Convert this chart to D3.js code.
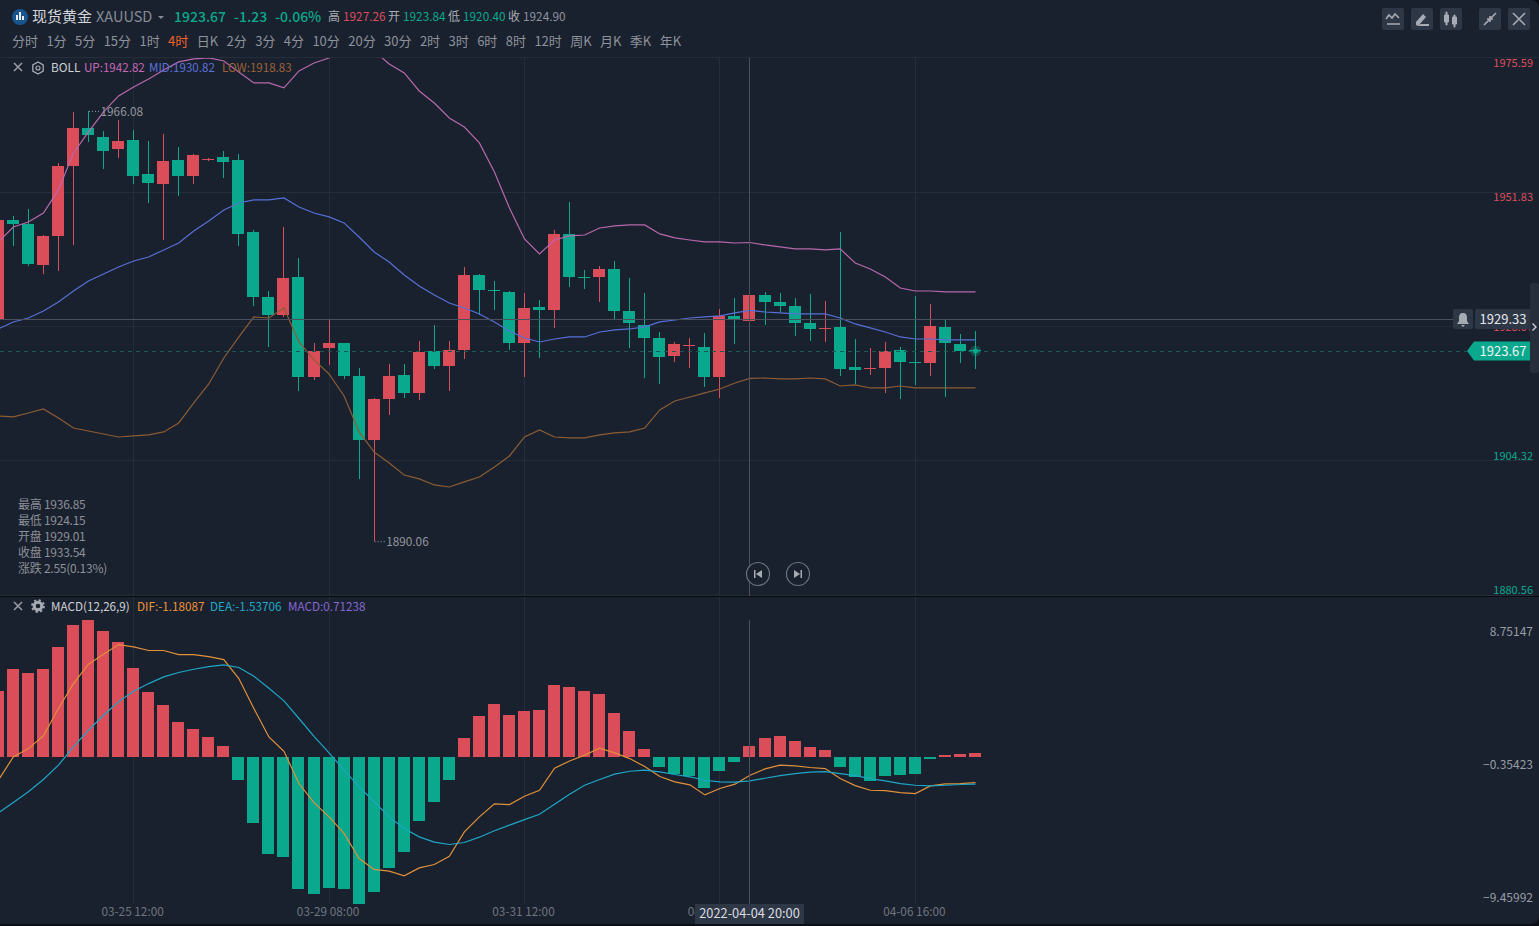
<!DOCTYPE html>
<html>
<head>
<meta charset="utf-8">
<title>XAUUSD</title>
<script src="https://cdn.jsdelivr.net/npm/d3@7"></script>
<style>
  html, body { margin: 0; padding: 0; background: #0b0e14; overflow: hidden; }
  svg { display: block; }
  text { font-family: "Noto Sans CJK SC", "Noto Sans", sans-serif; }
</style>
</head>
<body>
<div id="chart"></div>
<script>
// candles, oldest first (4h bars)
const open = [1929.32,1946.81,1946.10,1938.85,1943.98,1956.35,1963.06,1961.47,1959.35,1960.94,
  1954.93,1953.17,1957.41,1954.58,1957.41,1957.94,1957.41,1944.69,1933.20,1930.02,
  1936.73,1919.07,1924.19,1925.08,1919.25,1907.94,1915.19,1919.43,1916.25,1923.66,
  1921.02,1923.84,1937.09,1934.35,1934.09,1925.08,1931.44,1930.91,1944.34,1936.81,
  1936.73,1938.15,1930.73,1928.26,1925.96,1922.78,1924.65,1924.37,1919.07,1929.85,
  1929.01,1933.54,1932.32,1931.61,1928.61,1927.65,1927.91,1920.84,1920.55,1920.66,
  1923.84,1921.80,1921.54,1927.91,1924.90,1923.84];
const high = [1947.51,1947.51,1948.75,1944.15,1956.88,1965.89,1966.08,1962.53,1964.47,1962.70,
  1960.76,1962.00,1959.70,1958.47,1957.70,1958.99,1958.47,1945.04,1934.26,1945.57,
  1940.09,1925.08,1929.32,1925.08,1920.66,1915.36,1921.37,1921.37,1925.43,1928.26,
  1925.43,1938.50,1937.27,1936.03,1934.26,1933.91,1932.67,1945.04,1949.99,1937.97,
  1938.68,1939.56,1936.56,1933.91,1927.02,1925.25,1925.96,1926.85,1931.08,1933.02,
  1936.85,1934.09,1933.91,1933.02,1933.73,1932.50,1944.69,1925.78,1924.19,1925.25,
  1924.37,1933.38,1931.97,1929.32,1926.67,1927.26];
const low = [1929.14,1942.21,1938.68,1937.27,1937.80,1942.39,1960.58,1955.82,1957.76,1953.17,
  1949.81,1943.27,1951.05,1953.17,1957.30,1954.23,1942.21,1931.61,1924.37,1929.67,
  1916.60,1918.54,1921.19,1918.72,1901.06,1890.06,1912.36,1915.36,1915.01,1920.49,
  1916.60,1922.25,1930.02,1930.91,1923.84,1919.07,1922.43,1927.73,1934.97,1934.62,
  1932.32,1929.32,1924.19,1918.89,1917.84,1921.72,1920.66,1917.31,1915.36,1924.90,
  1924.15,1928.26,1930.55,1926.31,1925.43,1925.25,1919.25,1917.84,1919.43,1916.25,
  1915.19,1917.66,1919.25,1915.54,1921.54,1920.40];
const close = [1946.81,1946.10,1939.03,1943.98,1956.35,1963.06,1961.82,1958.99,1960.76,1954.58,
  1953.34,1957.23,1954.58,1958.29,1957.58,1957.05,1944.34,1933.20,1930.02,1936.56,
  1919.07,1923.66,1925.08,1919.25,1907.94,1915.19,1919.25,1916.25,1923.49,1921.02,
  1923.84,1937.09,1934.44,1934.17,1925.08,1931.26,1930.91,1944.34,1936.73,1936.63,
  1938.15,1930.73,1928.61,1925.96,1922.61,1924.90,1924.80,1919.07,1929.85,1929.14,
  1933.54,1932.32,1931.61,1928.61,1927.55,1927.80,1920.49,1920.31,1920.70,1923.66,
  1921.72,1921.65,1928.08,1925.08,1923.66,1923.67];

// bollinger bands
const bollUp = [1942.92,1945.57,1946.45,1948.04,1952.11,1958.64,1962.35,1965.89,1968.71,1970.30,
  1971.71,1973.30,1974.72,1975.25,1975.42,1974.89,1972.95,1971.01,1971.01,1970.13,
  1973.13,1974.54,1975.42,1976.66,1977.37,1976.66,1974.36,1972.77,1969.59,1967.47,
  1964.83,1963.23,1960.41,1955.29,1948.93,1943.45,1940.80,1943.27,1943.98,1944.15,
  1945.39,1945.75,1945.92,1945.92,1944.34,1943.63,1943.27,1942.92,1942.92,1942.74,
  1942.82,1942.39,1942.04,1941.69,1941.69,1941.51,1941.69,1939.21,1938.15,1936.73,
  1934.79,1934.26,1934.26,1934.09,1934.09,1934.09];
const bollMid = [1927.55,1928.79,1929.49,1930.73,1932.32,1934.26,1936.03,1937.27,1938.50,1939.56,
  1940.27,1941.51,1942.74,1944.86,1946.63,1948.57,1949.81,1950.34,1950.34,1950.69,
  1949.10,1948.04,1947.34,1946.28,1943.80,1941.15,1939.39,1937.09,1935.15,1933.56,
  1932.14,1931.26,1930.20,1928.79,1927.20,1925.96,1925.25,1925.78,1926.14,1926.14,
  1927.02,1927.38,1927.55,1927.91,1928.79,1929.14,1929.49,1929.67,1929.85,1930.38,
  1930.82,1930.55,1930.38,1930.20,1930.20,1930.20,1929.49,1928.44,1927.73,1927.02,
  1926.14,1925.78,1925.78,1925.61,1925.61,1925.61];
const bollLow = [1912.18,1912.01,1912.71,1913.42,1911.83,1910.06,1909.53,1909.00,1908.47,1908.65,
  1908.83,1909.36,1910.95,1914.48,1917.84,1922.43,1926.14,1929.67,1929.49,1931.26,
  1925.25,1922.08,1919.60,1915.72,1909.36,1905.82,1903.88,1901.76,1901.06,1900.00,
  1899.64,1900.53,1901.41,1903.17,1905.12,1908.47,1909.71,1908.47,1908.30,1908.30,
  1908.83,1909.18,1909.36,1910.06,1913.24,1914.83,1915.54,1916.25,1916.95,1918.01,
  1918.83,1918.89,1918.72,1918.72,1918.89,1918.72,1917.48,1917.66,1917.13,1917.13,
  1917.48,1917.13,1917.13,1917.13,1917.13,1917.13];

// macd
const macdHist = [4.20,5.63,5.37,5.61,7.06,8.47,8.75,8.04,7.38,5.72,
  4.13,3.35,2.26,1.81,1.25,0.67,-1.46,-4.24,-6.24,-6.44,
  -8.49,-8.79,-8.38,-8.45,-9.46,-8.64,-7.10,-6.08,-4.12,-2.90,
  -1.51,1.23,2.64,3.41,2.70,2.96,2.98,4.63,4.50,4.22,
  4.05,2.81,1.63,0.48,-0.67,-1.08,-1.23,-1.97,-0.93,-0.31,
  0.71,1.19,1.33,1.01,0.65,0.42,-0.67,-1.30,-1.57,-1.25,
  -1.19,-1.10,-0.14,0.14,0.18,0.22];
const dif = [-1.50,0,0.53,1.35,3.10,4.70,5.94,6.58,7.20,7.05,
  6.82,6.82,6.56,6.56,6.43,6.24,5.02,3.10,1.28,0.36,
  -1.71,-2.93,-3.85,-4.91,-6.52,-7.22,-7.33,-7.63,-7.12,-6.90,
  -6.37,-4.81,-3.85,-3.01,-3.06,-2.52,-2.14,-0.73,-0.26,0.11,
  0.56,0.26,-0.11,-0.62,-1.26,-1.60,-1.79,-2.44,-2.03,-1.75,
  -1.18,-0.77,-0.53,-0.58,-0.68,-0.75,-1.39,-1.84,-2.14,-2.16,
  -2.29,-2.35,-1.86,-1.73,-1.71,-1.65];
const dea = [-3.59,-2.93,-2.24,-1.45,-0.53,0.64,1.71,2.67,3.53,4.21,
  4.70,5.13,5.41,5.62,5.79,5.90,5.73,5.17,4.40,3.59,
  2.46,1.32,0.26,-0.85,-1.92,-2.88,-3.85,-4.59,-5.13,-5.47,
  -5.62,-5.49,-5.15,-4.74,-4.38,-4.02,-3.68,-3.03,-2.39,-1.82,
  -1.45,-1.11,-0.92,-0.85,-0.96,-1.13,-1.28,-1.50,-1.60,-1.62,
  -1.54,-1.37,-1.20,-1.07,-0.98,-0.94,-1.07,-1.20,-1.39,-1.54,
  -1.71,-1.82,-1.86,-1.82,-1.77,-1.75];

// axis ticks
const timeTicks = [9, 22, 35, 48, 61];
const timeLabels = ['03-25 12:00', '03-29 08:00', '03-31 12:00', '04-04 12:00', '04-06 16:00'];
const priceTicks = [1975.59, 1951.83, 1928.07, 1904.32, 1880.56];
const macdTicks = [8.75147, -0.35423, -9.45992];

// toolbar text
const periods = ['分时','1分','5分','15分','1时','4时','日K','2分','3分','4分','10分','20分','30分','2时','3时','6时','8时','12时','周K','月K','季K','年K'];
const activePeriod = '4时';
const hoverRows = ['最高 1936.85', '最低 1924.15', '开盘 1929.01', '收盘 1933.54', '涨跌 2.55(0.13%)'];
const hoverIndex = 50;
const lastPrice = 1923.67;
const crossPrice = 1929.33;
const crossLabel = '2022-04-04 20:00';

const width = 1539, height = 926;
const RED = '#dc4d5a', GREEN = '#0aa98d', GRID = '#252d3a', BG = '#1a212e', CROSS = '#4b505c', BOX = '#2e3746';
const UP_C = '#b868ac', MID_C = '#5670d8', LOW_C = '#8c5c34', DIF_C = '#e0903a', DEA_C = '#1ea6c6';
const GRAY = '#8d929c';

const idx = d3.range(open.length);
const x = d3.scaleLinear().domain([0, open.length - 1]).range([-2.2, 975]);
const y = d3.scaleLinear().domain([priceTicks[4], priceTicks[0]]).range([595, 57]);
const yM = d3.scaleLinear().domain([macdTicks[2], macdTicks[0]]).range([904.4, 620.4]);

const svg = d3.select('#chart').append('svg').attr('width', width).attr('height', height);

svg.append('rect').attr('x', -10).attr('y', 0).attr('width', width + 10).attr('height', 924).attr('rx', 8).attr('fill', BG);

const defs = svg.append('defs');
defs.append('clipPath').attr('id', 'mainClip').append('rect').attr('x', 0).attr('y', 57).attr('width', 1530).attr('height', 539);
defs.append('clipPath').attr('id', 'macdClip').append('rect').attr('x', 0).attr('y', 597).attr('width', 1530).attr('height', 307);

function txt(parent, s, px, py, size, fill, anchor) {
  return parent.append('text').attr('x', px).attr('y', py).attr('font-size', size).attr('fill', fill)
    .attr('text-anchor', anchor || 'start').text(s);
}

// ---- grid + axes
const gridV1 = svg.append('g').attr('transform', 'translate(0,595)')
  .call(d3.axisBottom(x).tickValues(timeTicks).tickSize(-538).tickFormat(''));
const gridV2 = svg.append('g').attr('transform', 'translate(0,904)')
  .call(d3.axisBottom(x).tickValues(timeTicks).tickSize(-307).tickFormat((d, i) => timeLabels[i]));
gridV2.selectAll('text').attr('x', -1).attr('y', 4).attr('dy', '.71em').attr('font-size', 11.8).attr('fill', '#70757f')
  .attr('font-family', '"Noto Sans CJK SC", sans-serif');
[gridV1, gridV2].forEach(g => {
  g.select('.domain').remove();
  g.selectAll('line').attr('stroke', GRID).attr('shape-rendering', 'crispEdges');
});

const gridH = svg.append('g').attr('transform', 'translate(1533,0)')
  .call(d3.axisLeft(y).tickValues(priceTicks).tickSize(1533).tickFormat(d3.format('.2f')));
gridH.select('.domain').remove();
gridH.selectAll('line').attr('stroke', GRID).attr('shape-rendering', 'crispEdges');
gridH.selectAll('text').attr('x', 0).attr('text-anchor', 'end').attr('font-size', 11)
  .attr('font-family', '"Noto Sans CJK SC", sans-serif')
  .attr('fill', d => d < priceTicks[2] - 1 ? GREEN : RED)
  .attr('dy', '.32em')
  .attr('y', d => d === priceTicks[2] ? 1 : d > priceTicks[2] ? 5.5 : -5);

const macdAxis = svg.append('g').attr('transform', 'translate(1533,0)')
  .call(d3.axisLeft(yM).tickValues(macdTicks).tickSize(0).tickFormat(d3.format('.5f')));
macdAxis.select('.domain').remove();
macdAxis.selectAll('text').attr('x', 0).attr('text-anchor', 'end').attr('font-size', 12)
  .attr('font-family', '"Noto Sans CJK SC", sans-serif').attr('fill', '#979ca6')
  .attr('dy', '.32em')
  .attr('y', (d, i) => [11, 2, -7][i]);

// panel separator
svg.append('rect').attr('x', 0).attr('y', 596).attr('width', width).attr('height', 1).attr('fill', '#07090d');

// ---- candles
const main = svg.append('g').attr('clip-path', 'url(#mainClip)');
const candle = main.selectAll('g.candle').data(idx).join('g').attr('class', 'candle')
  .attr('fill', i => close[i] >= open[i] ? RED : GREEN).attr('shape-rendering', 'crispEdges');
candle.append('rect').attr('x', i => Math.round(x(i))).attr('width', 1)
  .attr('y', i => y(high[i])).attr('height', i => y(low[i]) - y(high[i]));
candle.append('rect').attr('x', i => Math.round(x(i)) - 6).attr('width', 12)
  .attr('y', i => y(Math.max(open[i], close[i])))
  .attr('height', i => Math.max(1, Math.abs(y(open[i]) - y(close[i]))));

const line = (scale) => d3.line().x((d, i) => x(i) + 0.5).y(d => scale(d));
[[bollUp, UP_C], [bollMid, MID_C], [bollLow, LOW_C]].forEach(s => {
  main.append('path').attr('d', line(y)(s[0])).attr('fill', 'none').attr('stroke', s[1]).attr('stroke-width', 1.2);
});

// ---- macd
const macd = svg.append('g').attr('clip-path', 'url(#macdClip)');
macd.selectAll('rect.bar').data(idx).join('rect').attr('class', 'bar')
  .attr('x', i => Math.round(x(i)) - 6).attr('width', 12)
  .attr('y', i => yM(Math.max(0, macdHist[i])))
  .attr('height', i => Math.max(1, Math.abs(yM(macdHist[i]) - yM(0))))
  .attr('fill', i => macdHist[i] >= 0 ? RED : GREEN).attr('shape-rendering', 'crispEdges');
[[dif, DIF_C], [dea, DEA_C]].forEach(s => {
  macd.append('path').attr('d', line(yM)(s[0])).attr('fill', 'none').attr('stroke', s[1]).attr('stroke-width', 1.2);
});

// ---- price lines + crosshair
svg.append('line').attr('x1', 0).attr('x2', 1467).attr('y1', y(lastPrice) + 0.5).attr('y2', y(lastPrice) + 0.5)
  .attr('stroke', '#1a5a52').attr('stroke-dasharray', '4 4').attr('shape-rendering', 'crispEdges');
svg.append('line').attr('x1', 0).attr('x2', 1453).attr('y1', y(crossPrice) + 0.5).attr('y2', y(crossPrice) + 0.5)
  .attr('stroke', CROSS).attr('shape-rendering', 'crispEdges');
const cx = Math.round(x(hoverIndex)) + 0.5;
[[57, 596], [620, 904]].forEach(r => {
  svg.append('line').attr('x1', cx).attr('x2', cx).attr('y1', r[0]).attr('y2', r[1])
    .attr('stroke', CROSS).attr('shape-rendering', 'crispEdges');
});

// last point pulse
const lx = x(open.length - 1) + 0.5;
svg.append('circle').attr('cx', lx).attr('cy', y(lastPrice)).attr('r', 5.5).attr('fill', GREEN).attr('opacity', 0.3);
svg.append('circle').attr('cx', lx).attr('cy', y(lastPrice)).attr('r', 2.5).attr('fill', GREEN);

// extreme markers
function extreme(i, val) {
  const px = x(i) + 1, py = y(val);
  svg.append('line').attr('x1', px).attr('x2', px + 10).attr('y1', py + 0.5).attr('y2', py + 0.5)
    .attr('stroke', '#9a9ea8').attr('stroke-dasharray', '1 2');
  txt(svg, val.toFixed(2), px + 11.5, py + 5, 11.8, '#92969f');
}
extreme(d3.maxIndex(high), d3.max(high));
extreme(d3.minIndex(low), d3.min(low));

// ---- header
svg.append('circle').attr('cx', 20).attr('cy', 17).attr('r', 8).attr('fill', '#17558f');
[[16, 15, 5], [19, 12, 8], [22, 16, 4]].forEach(b => {
  svg.append('rect').attr('x', b[0]).attr('y', b[1]).attr('width', 2).attr('height', b[2]).attr('fill', '#e8edf3');
});
txt(svg, '现货黄金', 32, 22, 15, '#d5d8dd');
txt(svg, 'XAUUSD', 96, 22, 14.5, '#868b95');
svg.append('path').attr('d', 'M158,16h6l-3,3z').attr('fill', '#868b95');
txt(svg, lastPrice.toFixed(2), 174, 22, 14, GREEN).attr('font-weight', 500);
txt(svg, '-1.23', 234, 22, 14, GREEN).attr('font-weight', 500);
txt(svg, '-0.06%', 275, 22, 14, GREEN).attr('font-weight', 500);
txt(svg, '高', 328, 21, 12, '#a8acb4');
txt(svg, high[65].toFixed(2), 343, 21, 11.8, RED);
txt(svg, '开', 388, 21, 12, '#a8acb4');
txt(svg, open[65].toFixed(2), 403, 21, 11.8, GREEN);
txt(svg, '低', 448, 21, 12, '#a8acb4');
txt(svg, low[65].toFixed(2), 463, 21, 11.8, GREEN);
txt(svg, '收', 508, 21, 12, '#a8acb4');
txt(svg, '1924.90', 523, 21, 11.8, GRAY);

// period row, laid out left to right
let px = 12;
periods.forEach(p => {
  const t = txt(svg, p, px, 45.5, 13, p === activePeriod ? '#f0602c' : GRAY);
  px += t.node().getComputedTextLength() + 8.4;
});
svg.append('rect').attr('x', 0).attr('y', 57).attr('width', 1539).attr('height', 1).attr('fill', GRID);

// top right buttons
const btnX = [1382, 1411, 1440, 1479, 1508];
svg.selectAll('rect.btn').data(btnX).join('rect').attr('class', 'btn')
  .attr('x', d => d).attr('y', 8).attr('width', 22).attr('height', 22).attr('rx', 2).attr('fill', BOX);
const ICON = '#a7abb4';
svg.append('path').attr('d', 'M1386,19l3,-4l3,3l3,-4l4,4M1387,24h13').attr('fill', 'none').attr('stroke', ICON).attr('stroke-width', 1.6);
svg.append('path').attr('d', 'M1416,22l7,-8l3,3l-7,8h-3zM1416,26h13v-2h-8z').attr('fill', ICON);
svg.append('path').attr('d', 'M1446,12h1v3h1.5v7h-1.5v3h-1v-3h-1.5v-7h1.5zM1454,15h1v2h1.5v7h-1.5v3h-1v-3h-1.5v-7h1.5z').attr('fill', ICON).attr('stroke', ICON);
svg.append('path').attr('d', 'M1484,25l5,-5M1491,18l5,-5M1487,19h3v3M1493,19h-3v-3').attr('fill', 'none').attr('stroke', ICON).attr('stroke-width', 1.6);
svg.append('path').attr('d', 'M1513,13l12,12M1525,13l-12,12').attr('fill', 'none').attr('stroke', ICON).attr('stroke-width', 1.6);

// ---- legends
function closeIcon(py) {
  svg.append('path').attr('d', `M14,${py - 4}l8,8M22,${py - 4}l-8,8`).attr('stroke', '#9a9ea8').attr('stroke-width', 1.5).attr('fill', 'none');
}
closeIcon(67);
closeIcon(606);
// outline gear on the boll row, solid one on the macd row
const hex = d3.line().curve(d3.curveLinearClosed);
svg.append('path').attr('d', hex(d3.range(6).map(k => [38 + 6 * Math.sin(k * Math.PI / 3), 68 + 6 * Math.cos(k * Math.PI / 3)])))
  .attr('fill', 'none').attr('stroke', '#a7abb4').attr('stroke-width', 1.3);
svg.append('circle').attr('cx', 38).attr('cy', 68).attr('r', 2).attr('fill', 'none').attr('stroke', '#a7abb4').attr('stroke-width', 1.2);
svg.append('circle').attr('cx', 38).attr('cy', 606).attr('r', 3.8).attr('fill', 'none').attr('stroke', '#a7abb4').attr('stroke-width', 3);
svg.append('circle').attr('cx', 38).attr('cy', 606).attr('r', 6).attr('fill', 'none').attr('stroke', '#a7abb4').attr('stroke-width', 1.8).attr('stroke-dasharray', '2.3 2.4');

txt(svg, 'BOLL', 51, 71.5, 11.8, '#cfd2d8');
txt(svg, 'UP:' + bollUp[hoverIndex].toFixed(2), 84, 71.5, 11.6, '#c868b8');
txt(svg, 'MID:' + bollMid[hoverIndex].toFixed(2), 149, 71.5, 11.6, '#5b72dc');
txt(svg, 'LOW:' + bollLow[hoverIndex].toFixed(2), 222, 71.5, 11.6, '#9c6238');
txt(svg, 'MACD(12,26,9)', 51, 611, 11.7, '#cfd2d8');
txt(svg, 'DIF:-1.18087', 137, 611, 11.7, '#ee9338');
txt(svg, 'DEA:-1.53706', 210, 611, 11.7, '#1fa8c9');
txt(svg, 'MACD:0.71238', 288, 611, 11.7, '#8468d6');

hoverRows.forEach((r, i) => txt(svg, r, 18, 509 + i * 16, 12, '#8b9099').attr('letter-spacing', -0.25));

// replay buttons
[758, 798].forEach((c, i) => {
  svg.append('circle').attr('cx', c).attr('cy', 574).attr('r', 11.5).attr('fill', BG).attr('stroke', '#6d727d').attr('stroke-width', 1.2);
  svg.append('path').attr('d', i === 0
    ? `M${c - 4},570v8h1.5v-8zM${c + 4},570v8l-6,-4z`
    : `M${c + 4},570v8h-1.5v-8zM${c - 4},570v8l6,-4z`).attr('fill', '#a7abb4');
});

// ---- price tags
svg.append('rect').attr('x', 1453).attr('y', 309).attr('width', 20).attr('height', 20).attr('rx', 2).attr('fill', BOX);
svg.append('path').attr('d', 'M1463,313c-3,0 -4,2 -4,5v3l-2,3h12l-2,-3v-3c0,-3 -1,-5 -4,-5zM1461,325h4l-2,2z').attr('fill', '#a7abb4');
svg.append('rect').attr('x', 1475).attr('y', 309).attr('width', 56).attr('height', 20).attr('rx', 2).attr('fill', BOX);
txt(svg, crossPrice.toFixed(2), 1503, 324, 13, '#e4e6ea', 'middle');
svg.append('path').attr('d', 'M1467,351l7,-9.5h56v19h-56z').attr('fill', GREEN);
txt(svg, lastPrice.toFixed(2), 1503, 356, 13, '#f2f4f6', 'middle');
svg.append('rect').attr('x', 1530).attr('y', 283).attr('width', 9).attr('height', 90).attr('rx', 3).attr('fill', '#262e3c');
svg.append('path').attr('d', 'M1532.5,323.5l3.5,3.5l-3.5,3.5').attr('fill', 'none').attr('stroke', '#c8ccd2').attr('stroke-width', 1.4);

// crosshair time label
svg.append('rect').attr('x', 695).attr('y', 904).attr('width', 109).attr('height', 20).attr('fill', BOX);
txt(svg, crossLabel, 749.5, 918, 12.8, '#d9dce1', 'middle');
</script>
</body>
</html>
